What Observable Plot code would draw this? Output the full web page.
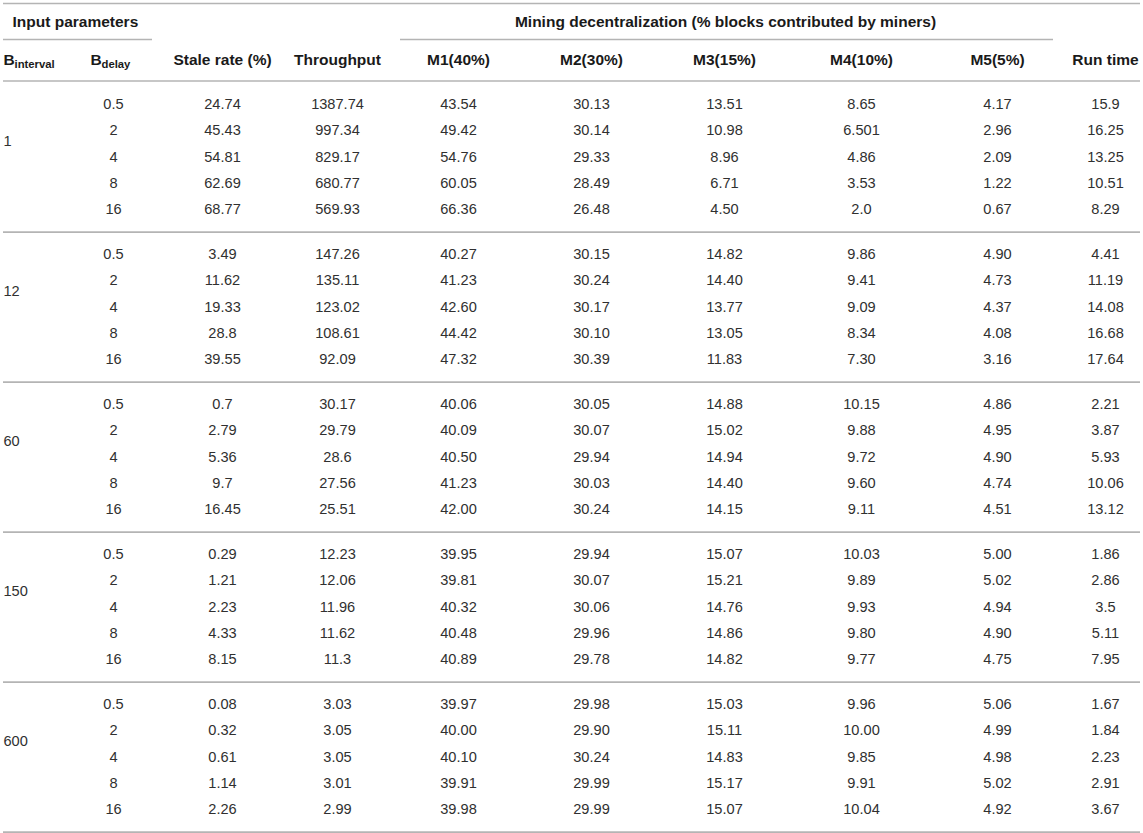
<!DOCTYPE html>
<html><head><meta charset="utf-8">
<script src="https://cdn.jsdelivr.net/npm/d3@7"></script>
<script src="https://cdn.jsdelivr.net/npm/@observablehq/plot@0.6"></script>
<style>body{margin:0;background:#fff}</style>
</head><body><div id="chart"></div>
<script>
// ---- data ----
const intervals = ["1", "12", "60", "150", "600"];
const delays = ["0.5", "2", "4", "8", "16"];
const groupTitles = ["Input parameters", "Mining decentralization (% blocks contributed by miners)"];
const columnHeaders = ["Stale rate (%)", "Throughput", "M1(40%)", "M2(30%)", "M3(15%)", "M4(10%)", "M5(5%)", "Run time"];
const staleRate = ["24.74","45.43","54.81","62.69","68.77","3.49","11.62","19.33","28.8","39.55","0.7","2.79","5.36","9.7","16.45","0.29","1.21","2.23","4.33","8.15","0.08","0.32","0.61","1.14","2.26"];
const throughput = ["1387.74","997.34","829.17","680.77","569.93","147.26","135.11","123.02","108.61","92.09","30.17","29.79","28.6","27.56","25.51","12.23","12.06","11.96","11.62","11.3","3.03","3.05","3.05","3.01","2.99"];
const m1 = ["43.54","49.42","54.76","60.05","66.36","40.27","41.23","42.60","44.42","47.32","40.06","40.09","40.50","41.23","42.00","39.95","39.81","40.32","40.48","40.89","39.97","40.00","40.10","39.91","39.98"];
const m2 = ["30.13","30.14","29.33","28.49","26.48","30.15","30.24","30.17","30.10","30.39","30.05","30.07","29.94","30.03","30.24","29.94","30.07","30.06","29.96","29.78","29.98","29.90","30.24","29.99","29.99"];
const m3 = ["13.51","10.98","8.96","6.71","4.50","14.82","14.40","13.77","13.05","11.83","14.88","15.02","14.94","14.40","14.15","15.07","15.21","14.76","14.86","14.82","15.03","15.11","14.83","15.17","15.07"];
const m4 = ["8.65","6.501","4.86","3.53","2.0","9.86","9.41","9.09","8.34","7.30","10.15","9.88","9.72","9.60","9.11","10.03","9.89","9.93","9.80","9.77","9.96","10.00","9.85","9.91","10.04"];
const m5 = ["4.17","2.96","2.09","1.22","0.67","4.90","4.73","4.37","4.08","3.16","4.86","4.95","4.90","4.74","4.51","5.00","5.02","4.94","4.90","4.75","5.06","4.99","4.98","5.02","4.92"];
const runTime = ["15.9","16.25","13.25","10.51","8.29","4.41","11.19","14.08","16.68","17.64","2.21","3.87","5.93","10.06","13.12","1.86","2.86","3.5","5.11","7.95","1.67","1.84","2.23","2.91","3.67"];

// ---- layout ----
const W = 1143, H = 833;
const rowPx = 26.25, firstRowPx = 104;
const pitch = 150 / rowPx;            // rows per group incl. gap
const colX = [222, 337, 458, 591, 724, 861, 997, 1105];
const delayX = 113;
const lineX = [3, 1140];
const FONT = "'Liberation Sans', Arial, Helvetica, sans-serif";
const bodySize = 14.6, headSize = 15.5, subSize = 11.3;
const lineColor = "#b4b4b4", textColor = "#303030", headColor = "#1a1a1a";

const columns = [staleRate, throughput, m1, m2, m3, m4, m5, runTime];
const rowSlot = (g, r) => g * pitch + r;

const cells = [];
intervals.forEach((iv, g) => delays.forEach((d, r) => {
  const i = g * 5 + r;
  cells.push({x: delayX, y: rowSlot(g, r), text: d});
  columns.forEach((col, c) => cells.push({x: colX[c], y: rowSlot(g, r), text: col[i]}));
}));
const groupLabels = intervals.map((iv, g) => ({x: 3, y: rowSlot(g, 1.42), text: iv}));

const topSlot = (3 - firstRowPx) / rowPx;
const titleSlot = (21.5 - firstRowPx) / rowPx;
const subLineSlot = (39 - firstRowPx) / rowPx;
const headSlot = (59.5 - firstRowPx) / rowPx;
const headLineSlot = (80.5 - firstRowPx) / rowPx;

const fullLines = [{y: topSlot}, {y: headLineSlot}].concat(intervals.map((iv, g) => ({y: rowSlot(g, 4.86)})));
const partLines = [{y: subLineSlot, x1: 3, x2: 152}, {y: subLineSlot, x1: 400, x2: 1053}];

const headers = columnHeaders.map((h, c) => ({x: colX[c], y: headSlot, text: h}));
const titles = [{x: 12, y: titleSlot, text: groupTitles[0], anchor: "start"}, {x: 725, y: titleSlot, text: groupTitles[1], anchor: "middle"}];
const bMain = [{x: 3, y: headSlot, text: "B"}, {x: 90, y: headSlot, text: "B"}];
const bSub = [{x: 14, y: headSlot, text: "interval"}, {x: 101, y: headSlot, text: "delay"}];

const chart = Plot.plot({
  width: W, height: H, margin: 0,
  x: {type: "linear", domain: [0, W], range: [0, W], axis: null},
  y: {type: "linear", domain: [-firstRowPx / rowPx, (H - firstRowPx) / rowPx], range: [0, H], axis: null},
  style: {fontFamily: FONT, background: "#fff"},
  marks: [
    Plot.ruleY(fullLines, {y: "y", x1: lineX[0], x2: lineX[1], stroke: lineColor, strokeWidth: 1.6}),
    Plot.ruleY(partLines, {y: "y", x1: "x1", x2: "x2", stroke: lineColor, strokeWidth: 1.6}),
    Plot.text(titles.filter(d => d.anchor === "start"), {x: "x", y: "y", text: "text", textAnchor: "start", fontSize: headSize, fontWeight: "bold", fill: headColor}),
    Plot.text(titles.filter(d => d.anchor === "middle"), {x: "x", y: "y", text: "text", textAnchor: "middle", fontSize: headSize, fontWeight: "bold", fill: headColor}),
    Plot.text(headers, {x: "x", y: "y", text: "text", textAnchor: "middle", fontSize: headSize, fontWeight: "bold", fill: headColor}),
    Plot.text(bMain, {x: "x", y: "y", text: "text", textAnchor: "start", fontSize: headSize, fontWeight: "bold", fill: headColor}),
    Plot.text(bSub, {x: "x", y: "y", text: "text", textAnchor: "start", fontSize: subSize, fontWeight: "bold", fill: headColor, dy: 4}),
    Plot.text(cells, {x: "x", y: "y", text: "text", textAnchor: "middle", fontSize: bodySize, fill: textColor}),
    Plot.text(groupLabels, {x: "x", y: "y", text: "text", textAnchor: "start", fontSize: bodySize, fill: textColor})
  ]
});
document.getElementById("chart").appendChild(chart);
</script>
</body></html>
